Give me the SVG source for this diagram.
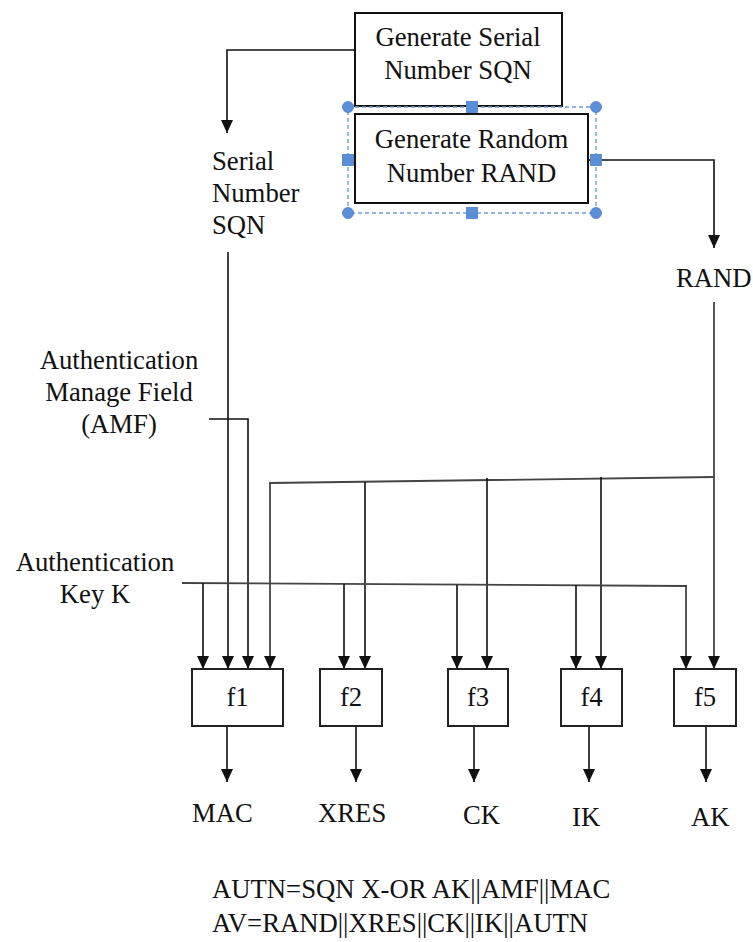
<svg xmlns="http://www.w3.org/2000/svg" width="753" height="942" viewBox="0 0 753 942">
  <style>
    text { font-family: "Liberation Serif", "Times New Roman", serif; font-size: 26.7px; fill: #111; }
    .mid { text-anchor: middle; }
    .box { fill: #fff; stroke: #111; stroke-width: 2; }
    .fbox { fill: #fff; stroke: #222; stroke-width: 2; }
    .wire { fill: none; stroke: #111; stroke-width: 1.6; }
    .bus { fill: none; stroke: #444; stroke-width: 1.8; }
    .arrow { marker-end: url(#head); }
    .sel { fill: none; stroke: #6e9fdc; stroke-width: 1.4; stroke-dasharray: 4 3; }
    .handle { fill: #5a8fd6; stroke: #4a7fc6; stroke-width: 0.8; }
  </style>
  <defs>
    <marker id="head" viewBox="0 0 12 13" refX="6" refY="13" markerWidth="12" markerHeight="13" markerUnits="userSpaceOnUse" orient="auto-start-reverse">
      <path d="M0,0 L12,0 L6,13 Z" fill="#111" transform="rotate(0)"/>
    </marker>
    <marker id="headV" viewBox="0 0 13 12" refX="13" refY="6" markerWidth="13" markerHeight="12" markerUnits="userSpaceOnUse" orient="auto">
      <path d="M0,0 L13,6 L0,12 Z" fill="#111"/>
    </marker>
  </defs>
  <rect width="753" height="942" fill="#fff"/>

  <!-- connectors -->
  <g id="connectors" marker-end="url(#headV)">
    <!-- SQN generator to SQN label -->
    <path class="wire" d="M355,50 H227 V133"/>
    <!-- RAND generator to RAND label -->
    <path class="wire" d="M588,160 H714 V248"/>

    <!-- serial number into f1 -->
    <path class="wire" d="M228,252 V669"/>
    <!-- AMF into f1 -->
    <path class="wire" d="M209,419 H248 V669"/>

    <!-- RAND trunk down to f5 -->
    <path class="bus" d="M714,302 V669"/>
    <!-- RAND bus to f1 -->
    <path class="bus" d="M714,477 L270,483 V669"/>
    <path class="wire" d="M365,482 V669"/>
    <path class="wire" d="M487,478 V669"/>
    <path class="wire" d="M601,477 V669"/>

    <!-- key K bus -->
    <path class="bus" d="M182,583 L686,586 V669"/>
    <path class="wire" d="M203,583 V669"/>
    <path class="wire" d="M344,584 V669"/>
    <path class="wire" d="M457,585 V669"/>
    <path class="wire" d="M576,585 V669"/>

    <!-- outputs -->
    <path class="wire" d="M227,726 V782"/>
    <path class="wire" d="M356,726 V782"/>
    <path class="wire" d="M474,726 V782"/>
    <path class="wire" d="M589,726 V782"/>
    <path class="wire" d="M706,726 V782"/>
  </g>

  <!-- generator blocks -->
  <g id="gen-sqn">
    <rect class="box" x="355" y="13" width="207" height="93"/>
    <text class="mid" x="458" y="46">Generate Serial</text>
    <text class="mid" x="458" y="79">Number SQN</text>
  </g>
  <g id="gen-rand">
    <rect class="box" x="355" y="114" width="233" height="89"/>
    <text class="mid" x="471.5" y="148">Generate Random</text>
    <text class="mid" x="471.5" y="182">Number RAND</text>
    <!-- selection frame with handles -->
    <rect class="sel" x="348" y="107" width="248" height="106"/>
    <circle class="handle" cx="348" cy="107" r="5.5"/>
    <circle class="handle" cx="596" cy="107" r="5.5"/>
    <circle class="handle" cx="348" cy="213" r="5.5"/>
    <circle class="handle" cx="596" cy="213" r="5.5"/>
    <rect class="handle" x="466.5" y="101.5" width="11" height="11"/>
    <rect class="handle" x="466.5" y="207.5" width="11" height="11"/>
    <rect class="handle" x="342.5" y="154.5" width="11" height="11"/>
    <rect class="handle" x="590.5" y="154.5" width="11" height="11"/>
  </g>

  <!-- input labels -->
  <g id="sqn-label">
    <text x="212" y="170">Serial</text>
    <text x="212" y="202">Number</text>
    <text x="212" y="234">SQN</text>
  </g>
  <g id="rand-label">
    <text x="676" y="287">RAND</text>
  </g>
  <g id="amf-label">
    <text class="mid" x="119" y="369">Authentication</text>
    <text class="mid" x="119" y="401">Manage Field</text>
    <text class="mid" x="119" y="433">(AMF)</text>
  </g>
  <g id="key-label">
    <text class="mid" x="95" y="571">Authentication</text>
    <text class="mid" x="95" y="603">Key K</text>
  </g>

  <!-- function blocks -->
  <g id="f1">
    <rect class="fbox" x="192" y="669" width="91" height="57"/>
    <text class="mid" x="237.5" y="706">f1</text>
  </g>
  <g id="f2">
    <rect class="fbox" x="320" y="669" width="62" height="57"/>
    <text class="mid" x="351" y="706">f2</text>
  </g>
  <g id="f3">
    <rect class="fbox" x="448" y="669" width="60" height="57"/>
    <text class="mid" x="478" y="706">f3</text>
  </g>
  <g id="f4">
    <rect class="fbox" x="561" y="669" width="61" height="57"/>
    <text class="mid" x="591.5" y="706">f4</text>
  </g>
  <g id="f5">
    <rect class="fbox" x="674" y="669" width="62" height="57"/>
    <text class="mid" x="705" y="706">f5</text>
  </g>

  <!-- outputs -->
  <g id="out-mac"><text x="192" y="822">MAC</text></g>
  <g id="out-xres"><text x="318" y="822">XRES</text></g>
  <g id="out-ck"><text x="463" y="824">CK</text></g>
  <g id="out-ik"><text x="572" y="826">IK</text></g>
  <g id="out-ak"><text x="691" y="826">AK</text></g>

  <!-- vector composition -->
  <g id="formulas">
    <text x="212" y="898">AUTN=SQN X-OR AK||AMF||MAC</text>
    <text x="212" y="932">AV=RAND||XRES||CK||IK||AUTN</text>
  </g>
</svg>
